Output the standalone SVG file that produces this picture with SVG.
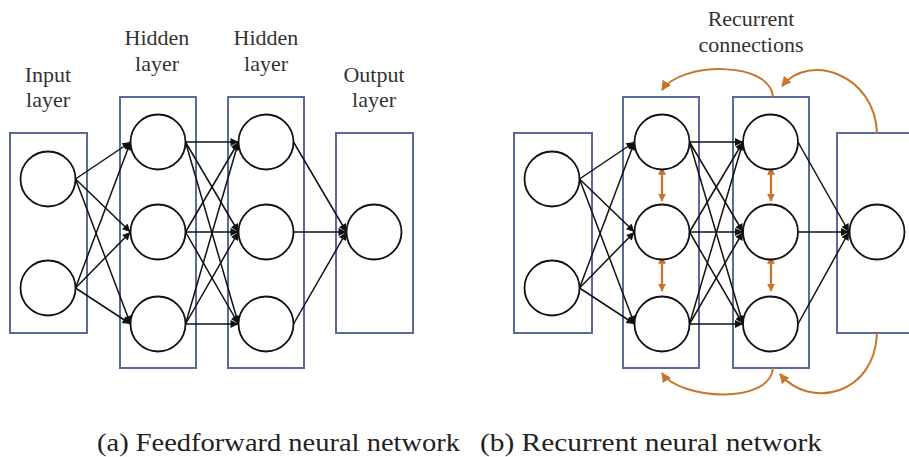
<svg xmlns="http://www.w3.org/2000/svg" width="909" height="457" viewBox="0 0 909 457">
<defs>
<marker id="ah" viewBox="0 0 10 10" refX="10" refY="5" markerWidth="9" markerHeight="8" markerUnits="userSpaceOnUse" orient="auto">
<path d="M0,0 L10,5 L0,10 Z" fill="#111"/>
</marker>
<marker id="oh" viewBox="0 0 10 10" refX="9" refY="5" markerWidth="10" markerHeight="10" markerUnits="userSpaceOnUse" orient="auto">
<path d="M0,0 L10,5 L0,10 Z" fill="#C8752A"/>
</marker>
<marker id="os" viewBox="0 0 10 10" refX="1" refY="5" markerWidth="8" markerHeight="8" markerUnits="userSpaceOnUse" orient="auto-start-reverse">
<path d="M0,0 L10,5 L0,10 Z" fill="#C8752A"/>
</marker>
<marker id="oe" viewBox="0 0 10 10" refX="9" refY="5" markerWidth="8" markerHeight="8" markerUnits="userSpaceOnUse" orient="auto">
<path d="M0,0 L10,5 L0,10 Z" fill="#C8752A"/>
</marker>
</defs>
<style>
.box{fill:none;stroke:#5B6A9C;stroke-width:2}
.nd{fill:#fff;stroke:#111;stroke-width:1.8}
.lbl{font-family:"Tinos","Liberation Serif","Times New Roman","DejaVu Serif",serif;font-size:22px;fill:#333;text-anchor:middle}
.cap{font-family:"Tinos","Liberation Serif","Times New Roman","DejaVu Serif",serif;font-size:25px;fill:#222}
.e{stroke:#111;stroke-width:1.5;fill:none;marker-end:url(#ah)}
.rc{stroke:#C8752A;stroke-width:2;fill:none}
.va{stroke:#C8752A;stroke-width:2.2;fill:none;marker-start:url(#os);marker-end:url(#oe)}
</style>
<rect width="909" height="457" fill="#fff"/>

<g id="labels-a">
<text class="lbl" x="48" y="82">Input</text>
<text class="lbl" x="48" y="107">layer</text>
<text class="lbl" x="157" y="45">Hidden</text>
<text class="lbl" x="157" y="71">layer</text>
<text class="lbl" x="266" y="45">Hidden</text>
<text class="lbl" x="266" y="71">layer</text>
<text class="lbl" x="374" y="82">Output</text>
<text class="lbl" x="374" y="107">layer</text>
</g>
<g id="labels-b">
<text class="lbl" x="751" y="26">Recurrent</text>
<text class="lbl" x="751" y="52">connections</text>
</g>

<g id="box-a-input"><rect class="box" x="10" y="133" width="77" height="200"/></g>
<g id="box-a-hidden1"><rect class="box" x="120" y="97" width="76" height="271"/></g>
<g id="box-a-hidden2"><rect class="box" x="228" y="97" width="76" height="271"/></g>
<g id="box-a-output"><rect class="box" x="336" y="133" width="77" height="200"/></g>
<g id="box-b-input"><rect class="box" x="514" y="133" width="78" height="200"/></g>
<g id="box-b-hidden1"><rect class="box" x="623" y="97" width="76" height="271"/></g>
<g id="box-b-hidden2"><rect class="box" x="733" y="97" width="76" height="271"/></g>
<g id="box-b-output"><rect class="box" x="837" y="133" width="80" height="200"/></g>

<g id="connectors">
<path class="e" d="M75.5,179 L130.5,142"/>
<path class="e" d="M75.5,179 L130.5,232"/>
<path class="e" d="M75.5,179 L130.5,324"/>
<path class="e" d="M75.5,288 L130.5,142"/>
<path class="e" d="M75.5,288 L130.5,232"/>
<path class="e" d="M75.5,288 L130.5,324"/>
<path class="e" d="M185.5,142 L238.5,142"/>
<path class="e" d="M185.5,142 L238.5,232"/>
<path class="e" d="M185.5,142 L238.5,324"/>
<path class="e" d="M185.5,232 L238.5,142"/>
<path class="e" d="M185.5,232 L238.5,232"/>
<path class="e" d="M185.5,232 L238.5,324"/>
<path class="e" d="M185.5,324 L238.5,142"/>
<path class="e" d="M185.5,324 L238.5,232"/>
<path class="e" d="M185.5,324 L238.5,324"/>
<path class="e" d="M293.5,142 L346.5,232"/>
<path class="e" d="M293.5,232 L346.5,232"/>
<path class="e" d="M293.5,324 L346.5,232"/>

<path class="e" d="M579.5,179 L634.5,142"/>
<path class="e" d="M579.5,179 L634.5,232"/>
<path class="e" d="M579.5,179 L634.5,324"/>
<path class="e" d="M579.5,288 L634.5,142"/>
<path class="e" d="M579.5,288 L634.5,232"/>
<path class="e" d="M579.5,288 L634.5,324"/>
<path class="e" d="M689.5,142 L743,142"/>
<path class="e" d="M689.5,142 L743,232"/>
<path class="e" d="M689.5,142 L743,324"/>
<path class="e" d="M689.5,232 L743,142"/>
<path class="e" d="M689.5,232 L743,232"/>
<path class="e" d="M689.5,232 L743,324"/>
<path class="e" d="M689.5,324 L743,142"/>
<path class="e" d="M689.5,324 L743,232"/>
<path class="e" d="M689.5,324 L743,324"/>
<path class="e" d="M798,142 L849,232"/>
<path class="e" d="M798,232 L849,232"/>
<path class="e" d="M798,324 L849,232"/>

<path class="rc" d="M773,97 C770,60 680,62 662,90" marker-end="url(#oh)"/>
<path class="rc" d="M877,133 C875,75 810,52 782,86" marker-end="url(#oh)"/>
<path class="rc" d="M773,368 C770,405 680,400 662,373" marker-end="url(#oh)"/>
<path class="rc" d="M877,333 C875,395 810,410 780,374" marker-end="url(#oh)"/>
<path class="va" d="M662,174 L662,201"/>
<path class="va" d="M662,263 L662,291"/>
<path class="va" d="M771,174 L771,201"/>
<path class="va" d="M771,263 L771,291"/>
</g>

<g id="a-in1"><circle class="nd" cx="48" cy="179" r="27.5"/></g>
<g id="a-in2"><circle class="nd" cx="48" cy="288" r="27.5"/></g>
<g id="a-h1-1"><circle class="nd" cx="158" cy="142" r="27.5"/></g>
<g id="a-h1-2"><circle class="nd" cx="158" cy="232" r="27.5"/></g>
<g id="a-h1-3"><circle class="nd" cx="158" cy="324" r="27.5"/></g>
<g id="a-h2-1"><circle class="nd" cx="266" cy="142" r="27.5"/></g>
<g id="a-h2-2"><circle class="nd" cx="266" cy="232" r="27.5"/></g>
<g id="a-h2-3"><circle class="nd" cx="266" cy="324" r="27.5"/></g>
<g id="a-out"><circle class="nd" cx="374" cy="232" r="27.5"/></g>
<g id="b-in1"><circle class="nd" cx="552" cy="179" r="27.5"/></g>
<g id="b-in2"><circle class="nd" cx="552" cy="288" r="27.5"/></g>
<g id="b-h1-1"><circle class="nd" cx="662" cy="142" r="27.5"/></g>
<g id="b-h1-2"><circle class="nd" cx="662" cy="232" r="27.5"/></g>
<g id="b-h1-3"><circle class="nd" cx="662" cy="324" r="27.5"/></g>
<g id="b-h2-1"><circle class="nd" cx="770.5" cy="142" r="27.5"/></g>
<g id="b-h2-2"><circle class="nd" cx="770.5" cy="232" r="27.5"/></g>
<g id="b-h2-3"><circle class="nd" cx="770.5" cy="324" r="27.5"/></g>
<g id="b-out"><circle class="nd" cx="877" cy="232" r="27.5"/></g>

<g id="captions">
<text class="cap" x="97" y="451" textLength="363" lengthAdjust="spacingAndGlyphs">(a) Feedforward neural network</text>
<text class="cap" x="480" y="451" textLength="342" lengthAdjust="spacingAndGlyphs">(b) Recurrent neural network</text>
</g>
</svg>
